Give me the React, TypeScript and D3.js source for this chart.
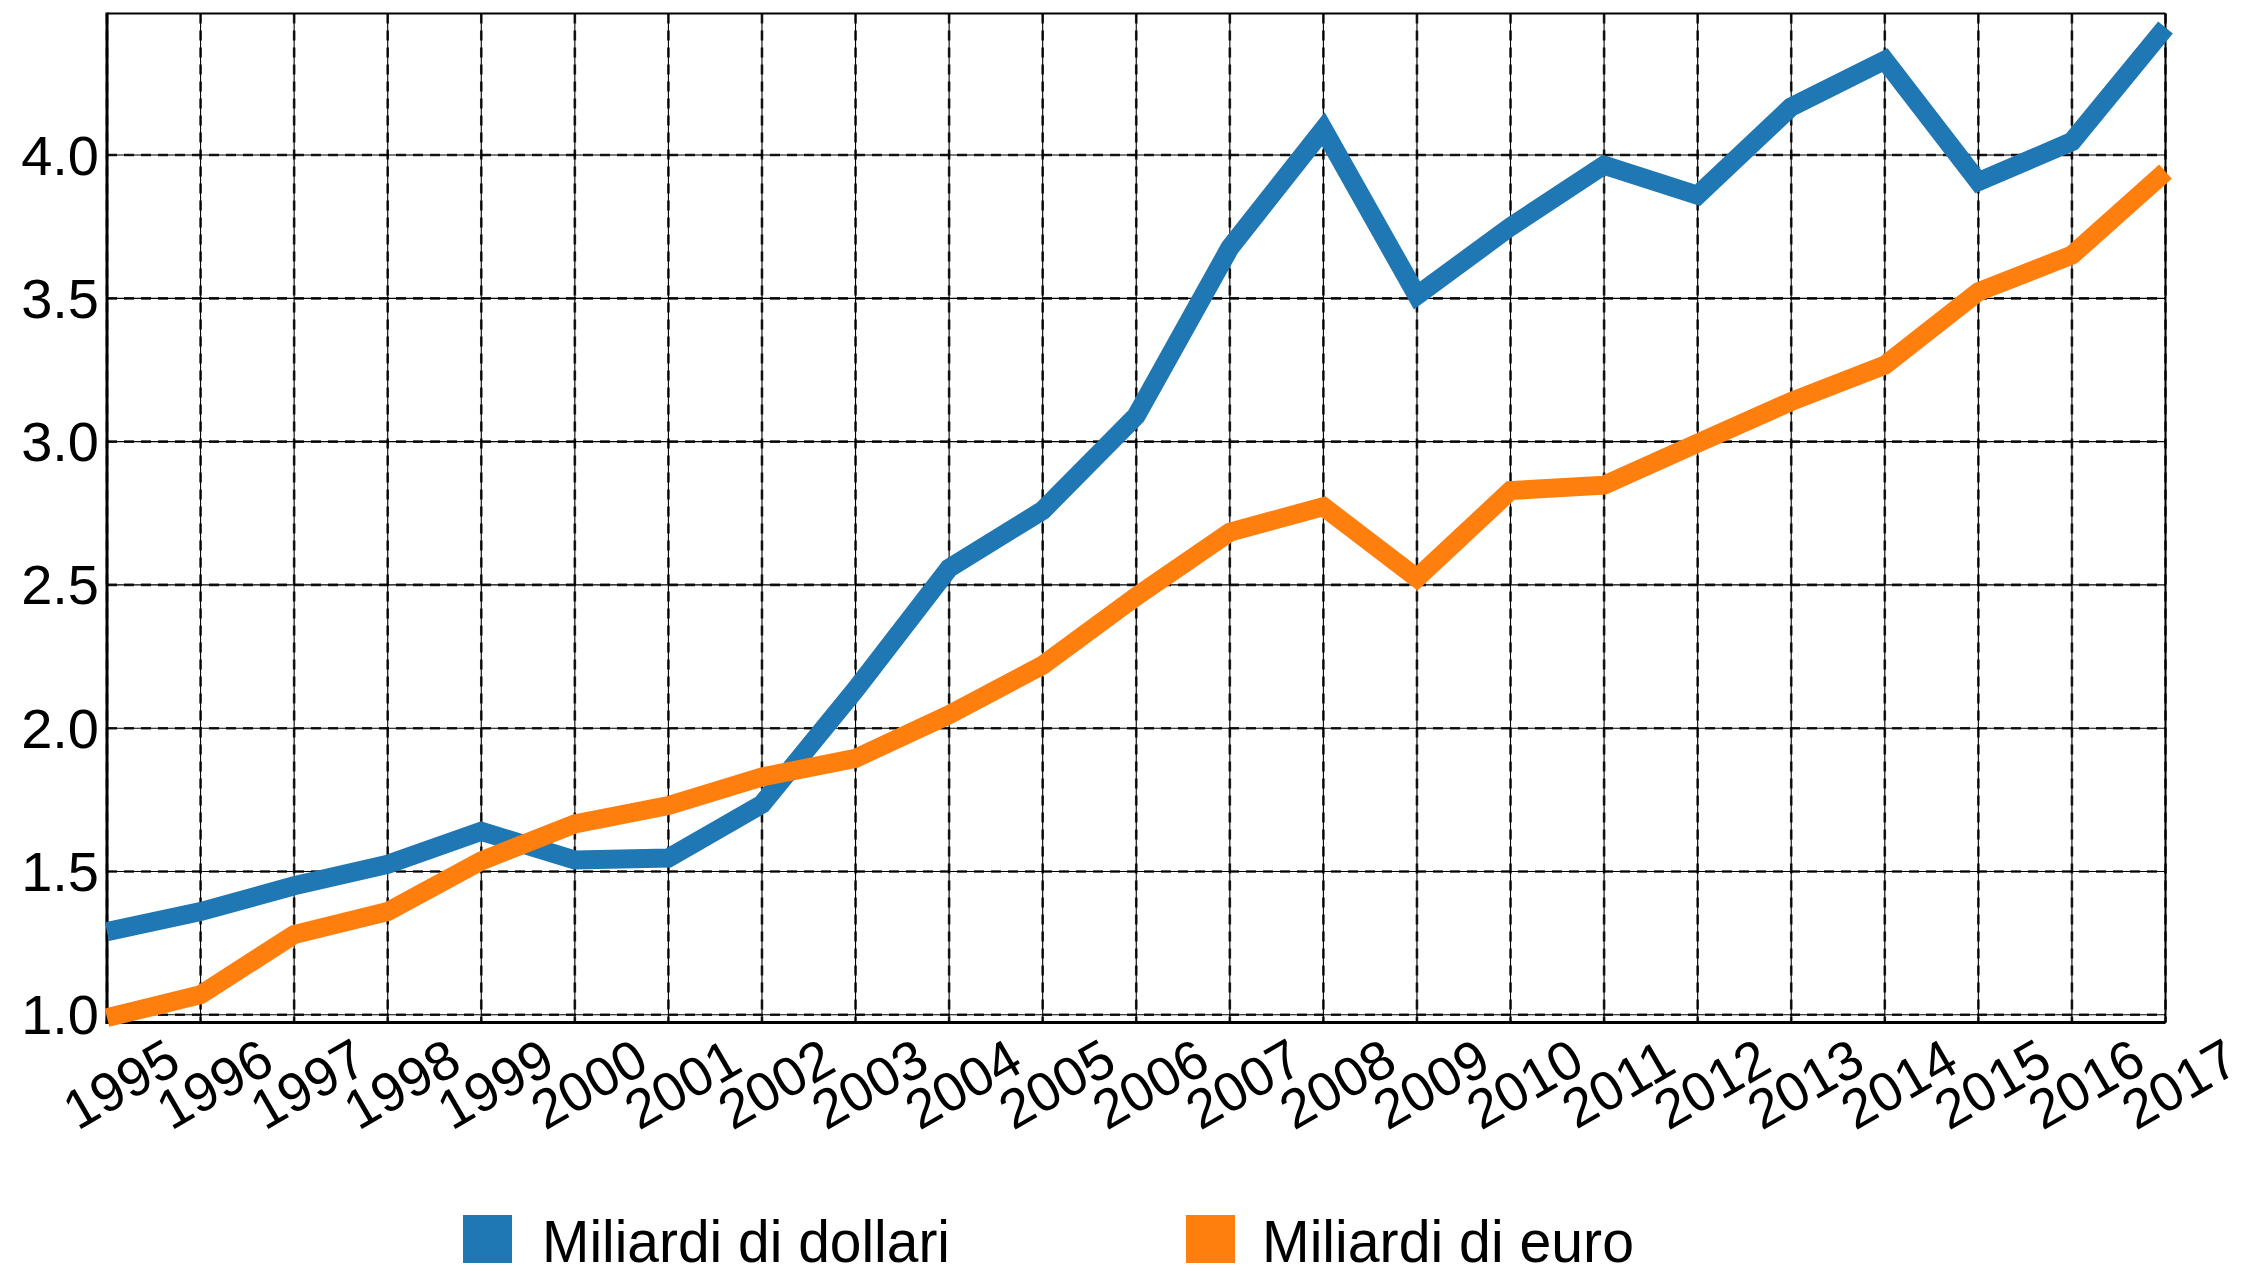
import React from 'react';
import * as d3 from 'd3';

// years on the x axis
const years = [
  1995, 1996, 1997, 1998, 1999, 2000, 2001, 2002, 2003, 2004, 2005, 2006,
  2007, 2008, 2009, 2010, 2011, 2012, 2013, 2014, 2015, 2016, 2017,
];

// values
const dollari = [
  1.29, 1.36, 1.45, 1.525, 1.64, 1.54, 1.547, 1.735, 2.135, 2.558, 2.76, 3.09,
  3.676, 4.09, 3.51, 3.75, 3.965, 3.86, 4.168, 4.331, 3.907, 4.047, 4.445,
];
const euro = [
  0.99, 1.07, 1.28, 1.36, 1.537, 1.666, 1.73, 1.83, 1.895, 2.047, 2.22, 2.46,
  2.684, 2.773, 2.524, 2.829, 2.848, 2.995, 3.14, 3.267, 3.523, 3.651, 3.942,
];

const yTicks = [1.0, 1.5, 2.0, 2.5, 3.0, 3.5, 4.0];
const seriesNames = ['Miliardi di dollari', 'Miliardi di euro'];
const seriesColors = ['#1f77b4', '#ff7f0e'];

const W = 2248;
const H = 1271;
const plot = { left: 107, right: 2165.5, top: 13.5, bottom: 1022.5 };
const font = 'Liberation Sans, Arial, Helvetica, sans-serif';

const App = () => {
  const x = d3.scaleLinear().domain([1995, 2017]).range([plot.left, plot.right]);
  const y = d3.scaleLinear().domain([0.973, 4.494]).range([plot.bottom, plot.top]);

  const line = d3
    .line<number>()
    .x((_, i) => x(years[i]))
    .y((d) => y(d));

  const series = [dollari, euro];

  // legend layout
  const legend = [
    { sq: 463, tx: 542, len: 408 },
    { sq: 1186, tx: 1262, len: 372 },
  ];

  return (
    <svg
      width={W}
      height={H}
      style={{ position: 'absolute', left: 0, top: 0, background: '#fff' }}
      fontFamily={font}
    >
      <rect x={0} y={0} width={W} height={H} fill="#fff" />

      {/* grid */}
      <g>
        {years.map((yr) => (
          <g key={'gx' + yr}>
            <line x1={x(yr)} x2={x(yr)} y1={plot.top} y2={plot.bottom} stroke="#000" strokeWidth={1.1} />
            <line
              x1={x(yr)} x2={x(yr)} y1={plot.top} y2={plot.bottom}
              stroke="#000" strokeWidth={2.6} strokeDasharray="10,7" opacity={0.85}
            />
          </g>
        ))}
        {yTicks.map((t) => (
          <g key={'gy' + t}>
            <line x1={plot.left} x2={plot.right} y1={y(t)} y2={y(t)} stroke="#000" strokeWidth={1.1} />
            <line
              x1={plot.left} x2={plot.right} y1={y(t)} y2={y(t)}
              stroke="#000" strokeWidth={2.6} strokeDasharray="10,7" opacity={0.85}
            />
          </g>
        ))}
      </g>

      {/* frame */}
      <line x1={plot.left} x2={plot.right} y1={plot.top} y2={plot.top} stroke="#000" strokeWidth={2} />
      <line x1={plot.right} x2={plot.right} y1={plot.top} y2={plot.bottom} stroke="#000" strokeWidth={2} />
      <line x1={plot.left} x2={plot.left} y1={plot.top - 1} y2={plot.bottom + 1.5} stroke="#000" strokeWidth={3} />
      <line x1={plot.left - 1.5} x2={plot.right} y1={plot.bottom} y2={plot.bottom} stroke="#000" strokeWidth={3} />

      {/* lines */}
      {series.map((s, i) => (
        <path
          key={'s' + i}
          d={line(s) || ''}
          fill="none"
          stroke={seriesColors[i]}
          strokeWidth={19}
          strokeLinejoin="miter"
          strokeLinecap="butt"
        />
      ))}

      {/* y labels */}
      {yTicks.map((t) => (
        <text
          key={'ty' + t}
          x={plot.left - 8}
          y={y(t)}
          textAnchor="end"
          dominantBaseline="central"
          fontSize={56}
          fill="#000"
        >
          {t.toFixed(1)}
        </text>
      ))}

      {/* x labels */}
      {years.map((yr) => {
        const cx = x(yr) + 14;
        const cy = 1084;
        return (
          <text
            key={'tx' + yr}
            x={cx}
            y={cy}
            textAnchor="middle"
            dominantBaseline="central"
            fontSize={55}
            fill="#000"
            transform={`rotate(-30, ${cx}, ${cy})`}
          >
            {yr}
          </text>
        );
      })}

      {/* legend */}
      {legend.map((l, i) => (
        <g key={'lg' + i}>
          <rect x={l.sq} y={1215} width={49} height={48} fill={seriesColors[i]} />
          <text
            x={l.tx}
            y={1262}
            fontSize={60}
            fill="#000"
            textLength={l.len}
            lengthAdjust="spacingAndGlyphs"
          >
            {seriesNames[i]}
          </text>
        </g>
      ))}
    </svg>
  );
};

export default App;
